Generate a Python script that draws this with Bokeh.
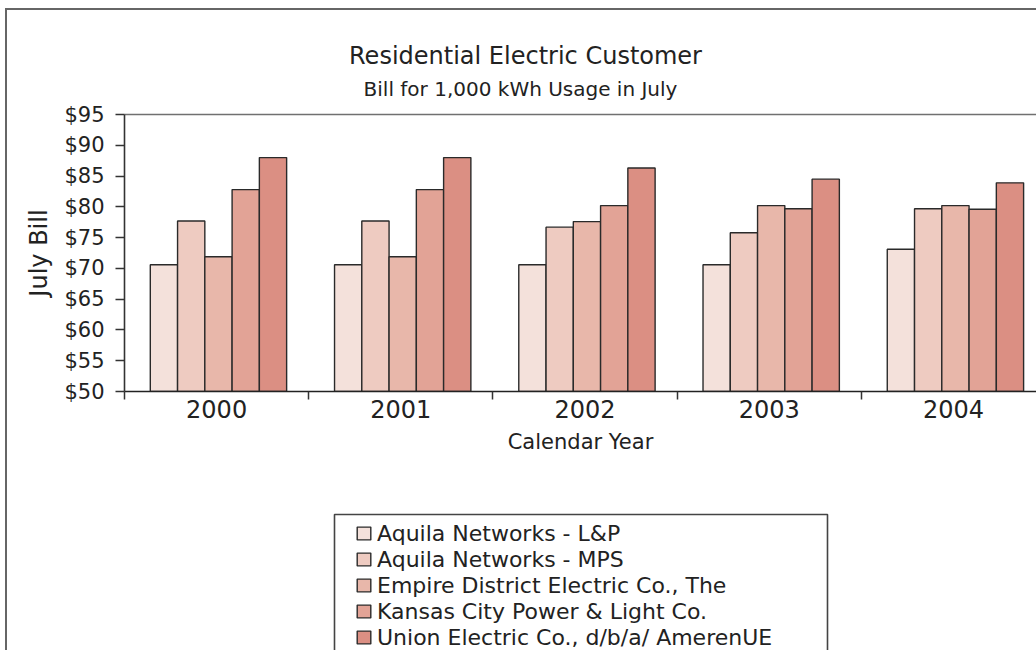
from bokeh.plotting import figure
from bokeh.layouts import column
from bokeh.models import (ColumnDataSource, Range1d, FixedTicker, Label, Legend, LegendItem,
                          NumeralTickFormatter, LinearAxis, BoxAnnotation)
from bokeh.transform import dodge
from bokeh.embed import file_html
from bokeh.resources import INLINE

# ---- data ----
years = ["2000", "2001", "2002", "2003", "2004"]
companies = [
    "Aquila Networks - L&P",
    "Aquila Networks - MPS",
    "Empire District Electric Co., The",
    "Kansas City Power & Light Co.",
    "Union Electric Co., d/b/a/ AmerenUE",
]
aquila_lp = [70.6, 70.6, 70.6, 70.6, 73.1]
aquila_mps = [77.7, 77.7, 76.7, 75.8, 79.7]
empire = [71.9, 71.9, 77.6, 80.2, 80.2]
kcpl = [82.8, 82.8, 80.2, 79.7, 79.6]
ameren = [88.0, 88.0, 86.3, 84.5, 83.9]
series = [aquila_lp, aquila_mps, empire, kcpl, ameren]
y_ticks = [50, 55, 60, 65, 70, 75, 80, 85, 90, 95]

title_text = "Residential Electric Customer"
subtitle_text = "Bill for 1,000 kWh Usage in July"
x_title = "Calendar Year"
y_title = "July Bill"

# ---- styles ----
colors = ["#F4E1DB", "#EECBC1", "#E8B7AA", "#E2A396", "#DB8F83"]
FONT = "DejaVu Sans"
TXT = "#222222"
BAR_LINE = "#2a2a2a"
W = 1029


def strip(height):
    f = figure(width=W, height=height, x_range=Range1d(0, 1), y_range=Range1d(0, 1),
               x_axis_type=None, y_axis_type=None, min_border=0,
               output_backend="svg", toolbar_location=None)
    f.outline_line_color = None
    f.xgrid.visible = False
    f.ygrid.visible = False
    f.background_fill_color = "white"
    f.border_fill_color = "white"
    return f


# ---- title strip ----
t = strip(90)
t.add_layout(Label(x=401, y=45, x_units="screen", y_units="screen", text=title_text,
                   text_font=FONT, text_font_size="24px", text_color=TXT,
                   text_align="center", text_baseline="middle"))
t.add_layout(Label(x=396, y=12, x_units="screen", y_units="screen", text=subtitle_text,
                   text_font=FONT, text_font_size="20px", text_color=TXT,
                   text_align="center", text_baseline="middle"))

# ---- chart ----
n = len(years)
p = figure(width=W, height=400, title=None,
           x_range=Range1d(-0.5, n - 0.55), y_range=Range1d(y_ticks[0], y_ticks[-1]),
           min_border_left=117, min_border_right=0, min_border_top=14, min_border_bottom=109,
           output_backend="svg", toolbar_location=None)
p.xgrid.visible = False
p.ygrid.visible = False
p.outline_line_color = None
p.background_fill_color = "white"
p.border_fill_color = "white"

bar_w = 0.148
sources = []
for j, (name, vals) in enumerate(zip(companies, series)):
    src = ColumnDataSource(dict(xi=list(range(n)), top=vals))
    sources.append(src)
    p.vbar(x=dodge("xi", (j - 2) * bar_w + 0.01, range=p.x_range), top="top",
           width=bar_w, source=src, fill_color=colors[j],
           line_color=BAR_LINE, line_width=1.4)

xa = p.xaxis[0]
xa.ticker = FixedTicker(ticks=list(range(n)), minor_ticks=[i - 0.5 for i in range(n + 1)])
xa.major_label_overrides = {i: y for i, y in enumerate(years)}
xa.major_tick_out = 0
xa.major_tick_in = 0
xa.minor_tick_out = 8
xa.minor_tick_in = 0
xa.minor_tick_line_color = "#333333"
xa.minor_tick_line_width = 1.5
xa.axis_line_color = "#222222"
xa.axis_line_width = 1.6
xa.major_label_text_font = FONT
xa.major_label_text_font_size = "24px"
xa.major_label_text_color = TXT
xa.major_label_standoff = 0
xa.axis_label = x_title
xa.axis_label_text_font = FONT
xa.axis_label_text_font_size = "21px"
xa.axis_label_text_font_style = "normal"
xa.axis_label_text_color = TXT
xa.axis_label_standoff = 9

ya = p.yaxis[0]
ya.ticker = FixedTicker(ticks=y_ticks, minor_ticks=[])
ya.formatter = NumeralTickFormatter(format="$0")
ya.major_tick_out = 9
ya.major_tick_in = 0
ya.major_tick_line_color = "#333333"
ya.major_tick_line_width = 1.3
ya.axis_line_color = "#333333"
ya.axis_line_width = 1.6
ya.major_label_text_font = FONT
ya.major_label_text_font_size = "21px"
ya.major_label_text_color = TXT
ya.major_label_standoff = 11
ya.axis_label = y_title
ya.axis_label_text_font = FONT
ya.axis_label_text_font_size = "24px"
ya.axis_label_text_font_style = "normal"
ya.axis_label_text_color = TXT
ya.axis_label_standoff = 8

# top edge of the plot area (open on the right, like the reference)
top_edge = LinearAxis(ticker=FixedTicker(ticks=[], minor_ticks=[]),
                      axis_line_color="#707070", axis_line_width=1.5,
                      major_tick_line_color=None, minor_tick_line_color=None,
                      major_label_text_font_size="0px")
p.add_layout(top_edge, "above")

# ---- legend strip ----
q = strip(150)
swatches = []
for j, src in enumerate(sources):
    r = q.vbar(x="xi", top="top", width=bar_w, source=src, fill_color=colors[j],
               line_color=BAR_LINE, line_width=1.4, visible=False)
    swatches.append(r)

q.add_layout(BoxAnnotation(left=210, right=703, top=136, bottom=-10,
                           left_units="screen", right_units="screen",
                           top_units="screen", bottom_units="screen",
                           fill_color=None, fill_alpha=0, line_color="#444444",
                           line_alpha=1.0, line_width=1.6, level="underlay"))

legend = Legend(items=[LegendItem(label=c, renderers=[r]) for c, r in zip(companies, swatches)],
                location=(231, 0), orientation="vertical",
                label_text_font=FONT, label_text_font_size="22px", label_text_color=TXT,
                label_height=26, glyph_height=16, glyph_width=17, spacing=0, padding=4,
                label_standoff=5, border_line_color=None,
                background_fill_alpha=0.0, margin=0, inactive_fill_alpha=0.0)
q.add_layout(legend, "center")

layout = column(t, p, q, spacing=0,
                styles={"border-left": "2px solid #666666", "border-top": "2px solid #666666",
                        "margin-left": "5px", "margin-top": "8px"})
open("out.html", "w").write(file_html(layout, INLINE))
